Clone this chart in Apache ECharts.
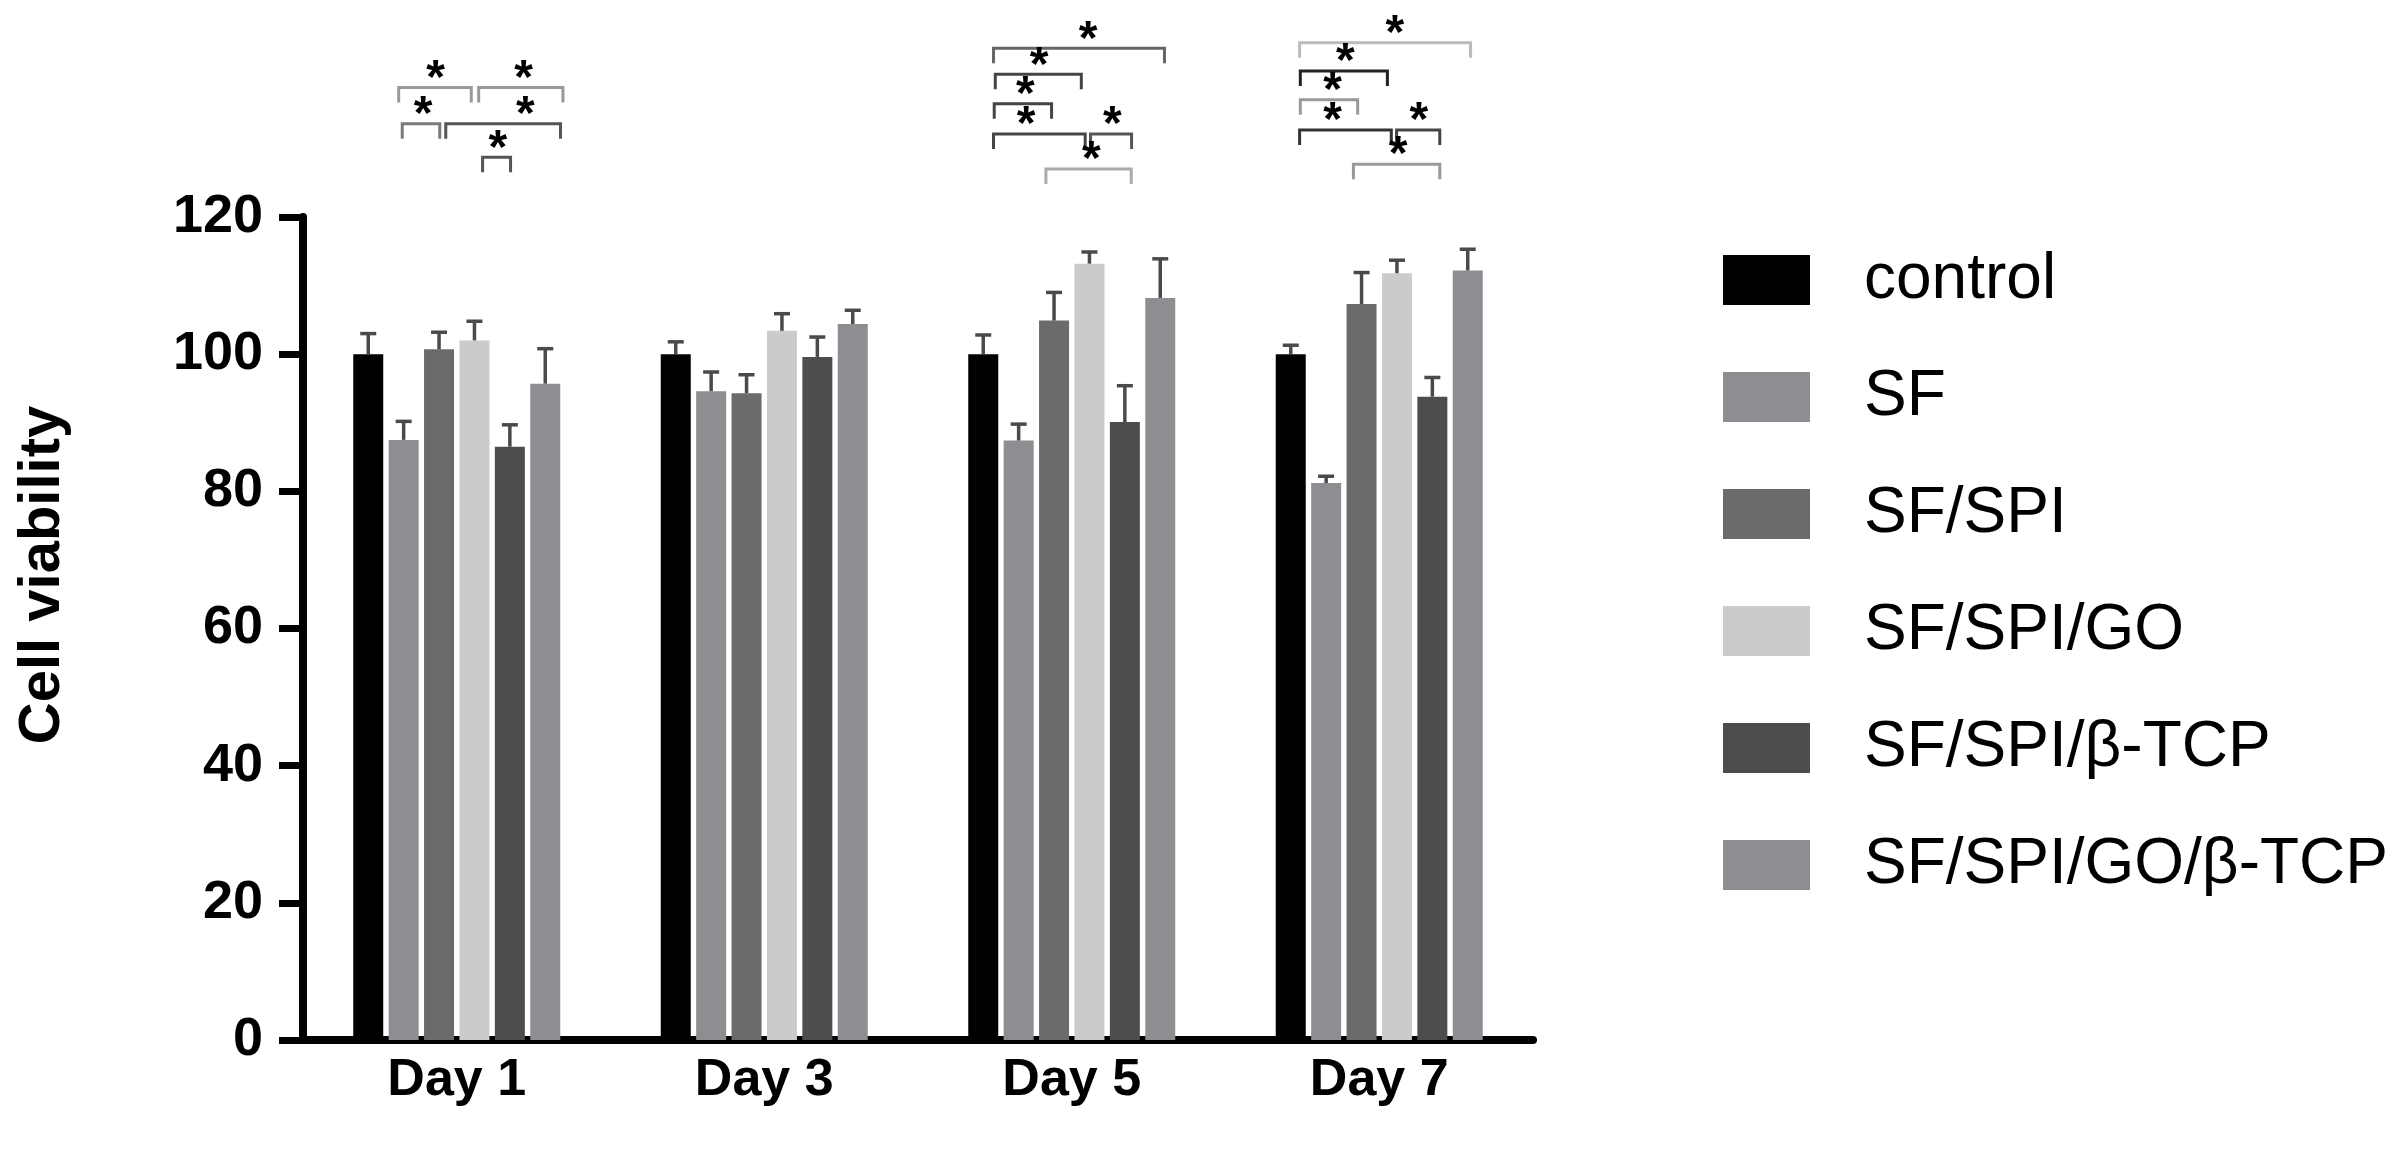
<!DOCTYPE html>
<html>
<head>
<meta charset="utf-8">
<title>Cell viability</title>
<script src="https://cdn.jsdelivr.net/npm/echarts@6/dist/echarts.min.js"></script>
<style>
  html, body { margin: 0; padding: 0; background: #fff; }
  #chart { width: 2405px; height: 1165px; }
</style>
</head>
<body>
<div id="chart"></div>
<script>
  // categories / groups
  var days = ['Day 1', 'Day 3', 'Day 5', 'Day 7']
  var groups = ['control', 'SF', 'SF/SPI', 'SF/SPI/GO', 'SF/SPI/β-TCP', 'SF/SPI/GO/β-TCP']

  // mean values per group (Day 1, 3, 5, 7)
  var controlVals = [100, 100, 100, 100]
  var sfVals = [87.5, 94.6, 87.4, 81.2]
  var sfSpiVals = [100.7, 94.3, 104.9, 107.3]
  var sfSpiGoVals = [102.0, 103.4, 113.2, 111.8]
  var sfSpiTcpVals = [86.5, 99.6, 90.1, 93.8]
  var sfSpiGoTcpVals = [95.7, 104.4, 108.2, 112.2]

  // error bars (upper only)
  var controlErr = [3.0, 1.8, 2.8, 1.3]
  var sfErr = [2.7, 2.8, 2.4, 1.0]
  var sfSpiErr = [2.5, 2.7, 4.1, 4.6]
  var sfSpiGoErr = [2.8, 2.5, 1.7, 1.9]
  var sfSpiTcpErr = [3.2, 2.9, 5.3, 2.8]
  var sfSpiGoTcpErr = [5.1, 2.0, 5.7, 3.1]

  // significance brackets: [day index, from bar slot, to bar slot, level, star slot]
  var brackets = [
    [0, 0.86, 2.91, 138.9, 1.90],
    [0, 3.12, 5.50, 138.9, 4.39],
    [0, 0.96, 2.02, 133.6, 1.55],
    [0, 2.19, 5.43, 133.6, 4.44],
    [0, 3.23, 4.02, 128.7, 3.66],
    [2, 0.29, 5.12, 144.6, 2.96],
    [2, 0.34, 2.77, 140.8, 1.58],
    [2, 0.31, 1.93, 136.5, 1.19],
    [2, 0.29, 2.88, 132.1, 1.21],
    [2, 3.03, 4.19, 132.1, 3.65],
    [2, 1.77, 4.18, 127.0, 3.05],
    [3, 0.25, 5.08, 145.4, 2.94],
    [3, 0.27, 2.73, 141.3, 1.54],
    [3, 0.27, 1.89, 137.1, 1.18],
    [3, 0.25, 2.84, 132.7, 1.18],
    [3, 2.99, 4.21, 132.7, 3.62],
    [3, 1.77, 4.21, 127.7, 3.03]
  ]
  var bracketColors = ['#9a9a9a', '#999999', '#7a7a7a', '#555555', '#555555',
    '#666666', '#444444', '#444444', '#444444', '#555555', '#aaaaaa',
    '#bbbbbb', '#222222', '#999999', '#333333', '#444444', '#999999']

  var colors = ['#000000', '#8e8d92', '#6b6b6b', '#cbcbcb', '#4d4d4d', '#8e8d92']
  var allVals = [controlVals, sfVals, sfSpiVals, sfSpiGoVals, sfSpiTcpVals, sfSpiGoTcpVals]
  var allErr = [controlErr, sfErr, sfSpiErr, sfSpiGoErr, sfSpiTcpErr, sfSpiGoTcpErr]

  var FONT = '"Liberation Sans", Arial, Helvetica, sans-serif'
  var BAR_W = 30
  var BAR_GAP = 0.18
  var PITCH = BAR_W * (1 + BAR_GAP)
  var LEG = 15

  var chart = echarts.init(document.getElementById('chart'))

  // error bar data built from the arrays above
  var errData = []
  allVals.forEach(function (vals, g) {
    vals.forEach(function (v, d) {
      errData.push([d, g, v, allErr[g][d]])
    })
  })

  function renderError(params, api) {
    var day = api.value(0)
    var slot = api.value(1)
    var base = api.coord([day, api.value(2)])
    var top = api.coord([day, api.value(2) + api.value(3)])
    var x = base[0] + (slot - 2.5) * PITCH
    return {
      type: 'group',
      children: [
        {type: 'line', shape: {x1: x, y1: base[1], x2: x, y2: top[1]},
          style: {stroke: '#4a4a4a', lineWidth: 3.5}},
        {type: 'line', shape: {x1: x - 8, y1: top[1], x2: x + 8, y2: top[1]},
          style: {stroke: '#4a4a4a', lineWidth: 3.5}}
      ]
    }
  }

  function renderBracket(params, api) {
    var p = api.coord([api.value(0), api.value(3)])
    var x1 = p[0] + (api.value(1) - 2.5) * PITCH
    var x2 = p[0] + (api.value(2) - 2.5) * PITCH
    var xs = p[0] + (api.value(4) - 2.5) * PITCH
    var y = p[1]
    return {
      type: 'group',
      children: [
        {type: 'polyline', shape: {points: [[x1, y + LEG], [x1, y], [x2, y], [x2, y + LEG]]},
          style: {stroke: bracketColors[params.dataIndex], lineWidth: 3, fill: 'none'}},
        {type: 'text', x: xs, y: y - 8,
          style: {text: '*', fill: '#000', font: 'bold 48px ' + FONT, align: 'center', verticalAlign: 'middle'}}
      ]
    }
  }

  var series = groups.map(function (name, g) {
    return {
      name: name,
      type: 'bar',
      data: allVals[g],
      barWidth: BAR_W,
      barGap: (BAR_GAP * 100) + '%',
      itemStyle: {color: colors[g]},
      z: 2
    }
  })
  series.push({
    type: 'custom',
    renderItem: renderError,
    data: errData,
    encode: {x: 0, y: 2},
    silent: true,
    z: 3
  })
  series.push({
    type: 'custom',
    renderItem: renderBracket,
    data: brackets,
    encode: {x: 0, y: 3},
    clip: false,
    silent: true,
    z: 4
  })

  var option = {
    backgroundColor: '#fff',
    animation: false,
    color: colors,
    grid: {left: 303, right: 872, top: 217, bottom: 125},
    legend: {
      data: groups,
      orient: 'vertical',
      left: 1718,
      top: 243,
      itemWidth: 87,
      itemHeight: 50,
      itemGap: 53,
      icon: 'rect',
      selectedMode: false,
      textStyle: {fontSize: 64, fontFamily: FONT, color: '#000', lineHeight: 52, padding: [0, 0, 0, 49]}
    },
    xAxis: {
      type: 'category',
      data: days,
      axisLine: {lineStyle: {color: '#000', width: 8}},
      axisTick: {alignWithLabel: true, length: 18, lineStyle: {color: '#000', width: 7}},
      axisLabel: {fontSize: 52, fontWeight: 'bold', fontFamily: FONT, color: '#000', margin: 15}
    },
    yAxis: {
      type: 'value',
      min: 0,
      max: 120,
      interval: 20,
      axisLine: {show: true, lineStyle: {color: '#000', width: 8}},
      axisTick: {show: true, length: 24, lineStyle: {color: '#000', width: 7}},
      splitLine: {show: false},
      axisLabel: {fontSize: 54, fontWeight: 'bold', fontFamily: FONT, color: '#000', margin: 40}
    },
    graphic: [{
      type: 'text',
      x: 43,
      y: 575,
      rotation: Math.PI / 2,
      style: {text: 'Cell viability', font: 'bold 58px ' + FONT, fill: '#000', align: 'center', verticalAlign: 'middle'}
    }],
    series: series
  }

  chart.setOption(option)
</script>
</body>
</html>
